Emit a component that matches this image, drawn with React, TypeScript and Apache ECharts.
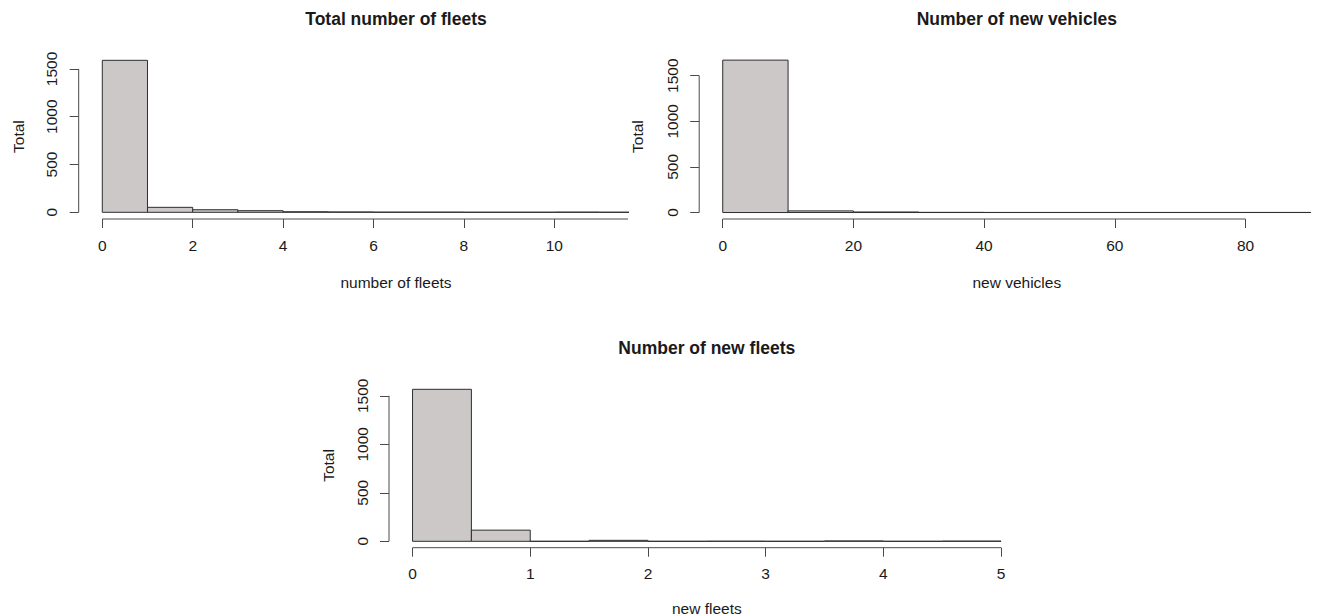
import React, { useEffect, useRef } from "react";
import * as echarts from "echarts";

// ---------- data ----------
const fleetsBinStarts = [0, 1, 2, 3, 4, 5, 6, 7, 8, 9, 10, 11, 12];
const fleetsBinWidth = 1;
const fleetsCounts = [1590, 52, 27, 17, 6, 4, 2, 2, 1, 1, 2, 1, 1];
const fleetsXTicks = [0, 2, 4, 6, 8, 10, 12];

const vehiclesBinStarts = [0, 10, 20, 30, 40, 50, 60, 70, 80];
const vehiclesBinWidth = 10;
const vehiclesCounts = [1671, 18, 6, 2, 1, 1, 1, 1, 1];
const vehiclesXTicks = [0, 20, 40, 60, 80];

const newFleetsBinStarts = [0, 0.5, 1, 1.5, 2, 2.5, 3, 3.5, 4, 4.5];
const newFleetsBinWidth = 0.5;
const newFleetsCounts = [1567, 115, 0, 10, 0, 1, 0, 4, 0, 2];
const newFleetsXTicks = [0, 1, 2, 3, 4, 5];

const yTicks = [0, 500, 1000, 1500];

const titles = ["Total number of fleets", "Number of new vehicles", "Number of new fleets"];
const xNames = ["number of fleets", "new vehicles", "new fleets"];
const yName = "Total";

// ---------- layout / style ----------
const FONT = "'Liberation Sans', Arial, Helvetica, sans-serif";
const TEXT = "#1a1a1a";
const AXIS = "#4a4a4a";
const FILL = "#cbc8c7";
const STROKE = "#2e2e2e";

type Panel = {
  starts: number[];
  width: number;
  counts: number[];
  xTicks: number[];
  xLineEnd: number | null; // null -> to grid edge
  grid: { left: number; top: number; width: number; height: number };
  xMin: number;
  xMax: number;
  yMin: number;
  yMax: number;
  clip: boolean;
  title: [number, number];
  xName: [number, number];
  yNameX: number;
};

const panels: Panel[] = [
  {
    starts: fleetsBinStarts,
    width: fleetsBinWidth,
    counts: fleetsCounts,
    xTicks: fleetsXTicks,
    xLineEnd: null,
    grid: { left: 78.7, top: 54.2, width: 549.3, height: 164.8 },
    xMin: -0.522,
    xMax: 11.63,
    yMin: -70,
    yMax: 1654,
    clip: true,
    title: [396, 19],
    xName: [396, 282],
    yNameX: 18,
  },
  {
    starts: vehiclesBinStarts,
    width: vehiclesBinWidth,
    counts: vehiclesCounts,
    xTicks: vehiclesXTicks,
    xLineEnd: 80,
    grid: { left: 699.2, top: 54.2, width: 617.8, height: 164.8 },
    xMin: -3.6,
    xMax: 90.94,
    yMin: -71,
    yMax: 1736,
    clip: false,
    title: [1016.8, 19],
    xName: [1016.8, 282],
    yNameX: 637.3,
  },
  {
    starts: newFleetsBinStarts,
    width: newFleetsBinWidth,
    counts: newFleetsCounts,
    xTicks: newFleetsXTicks,
    xLineEnd: 5,
    grid: { left: 389, top: 383.2, width: 635.6, height: 164.5 },
    xMin: -0.2,
    xMax: 5.2,
    yMin: -66,
    yMax: 1630,
    clip: false,
    title: [706.8, 348],
    xName: [706.8, 608],
    yNameX: 328.3,
  },
];

export default function App() {
  const ref = useRef<HTMLDivElement>(null);

  useEffect(() => {
    if (!ref.current) return;
    const chart = echarts.init(ref.current, undefined, { renderer: "svg" });

    const grids: any[] = [];
    const xAxes: any[] = [];
    const yAxes: any[] = [];
    const series: any[] = [];
    const graphics: any[] = [];

    panels.forEach((p, i) => {
      grids.push({ ...p.grid, containLabel: false });
      xAxes.push({
        type: "value",
        gridIndex: i,
        min: p.xMin,
        max: p.xMax,
        splitLine: { show: false },
        axisLine: { show: false, onZero: false },
        axisTick: {
          show: true,
          length: 9,
          customValues: p.xTicks,
          lineStyle: { color: AXIS, width: 1 },
        },
        axisLabel: {
          show: true,
          customValues: p.xTicks,
          formatter: (v: number) => String(v),
          margin: 18,
          fontSize: 15.5,
          fontFamily: FONT,
          color: TEXT,
        },
      });
      yAxes.push({
        type: "value",
        gridIndex: i,
        min: p.yMin,
        max: p.yMax,
        splitLine: { show: false },
        axisLine: { show: false, onZero: false },
        axisTick: {
          show: true,
          length: 9,
          customValues: yTicks,
          lineStyle: { color: AXIS, width: 1 },
        },
        axisLabel: {
          show: true,
          customValues: yTicks,
          formatter: (v: number) => String(v),
          rotate: 90,
          margin: 19,
          fontSize: 15.5,
          fontFamily: FONT,
          color: TEXT,
        },
      });

      // histogram bars
      series.push({
        type: "custom",
        xAxisIndex: i,
        yAxisIndex: i,
        clip: p.clip,
        data: p.starts.map((s, k) => [s, s + p.width, p.counts[k]]),
        encode: { x: [0, 1], y: 2 },
        renderItem: (params: any, api: any) => {
          const a = api.coord([api.value(0), 0]);
          const b = api.coord([api.value(1), api.value(2)]);
          return {
            type: "polygon",
            shape: {
              points: [
                [a[0], a[1]],
                [a[0], b[1]],
                [b[0], b[1]],
                [b[0], a[1]],
              ],
            },
            style: { fill: FILL, stroke: STROKE, lineWidth: 1 },
          };
        },
      });

      // R-style axis lines (tick-to-tick)
      const xEnd = p.xLineEnd === null ? p.xMax : p.xLineEnd;
      series.push({
        type: "custom",
        xAxisIndex: i,
        yAxisIndex: i,
        clip: false,
        silent: true,
        data: [[p.xTicks[0], xEnd, yTicks[0], yTicks[yTicks.length - 1]]],
        encode: { x: [0, 1], y: [2, 3] },
        renderItem: (params: any, api: any) => {
          const x0 = api.coord([api.value(0), p.yMin]);
          const x1 = api.coord([api.value(1), p.yMin]);
          const y0 = api.coord([p.xMin, api.value(2)]);
          const y1 = api.coord([p.xMin, api.value(3)]);
          return {
            type: "group",
            children: [
              {
                type: "line",
                shape: { x1: x0[0], y1: x0[1], x2: x1[0], y2: x1[1] },
                style: { stroke: AXIS, lineWidth: 1 },
              },
              {
                type: "line",
                shape: { x1: y0[0], y1: y0[1], x2: y1[0], y2: y1[1] },
                style: { stroke: AXIS, lineWidth: 1 },
              },
            ],
          };
        },
      });

      graphics.push({
        type: "text",
        x: p.title[0],
        y: p.title[1],
        style: {
          text: titles[i],
          font: `bold 17.5px ${FONT}`,
          fill: TEXT,
          align: "center",
          verticalAlign: "middle",
        },
      });
      graphics.push({
        type: "text",
        x: p.xName[0],
        y: p.xName[1],
        style: {
          text: xNames[i],
          font: `15.5px ${FONT}`,
          fill: TEXT,
          align: "center",
          verticalAlign: "middle",
        },
      });
      graphics.push({
        type: "text",
        x: p.yNameX,
        y: p.grid.top + p.grid.height / 2,
        rotation: Math.PI / 2,
        style: {
          text: yName,
          font: `15.5px ${FONT}`,
          fill: TEXT,
          align: "center",
          verticalAlign: "middle",
        },
      });
    });

    chart.setOption({
      animation: false,
      backgroundColor: "#ffffff",
      grid: grids,
      xAxis: xAxes,
      yAxis: yAxes,
      series,
      graphic: graphics,
    });

    return () => chart.dispose();
  }, []);

  return (
    <div
      ref={ref}
      style={{ position: "fixed", left: 0, top: 0, width: 1317, height: 616, background: "#fff" }}
    />
  );
}
